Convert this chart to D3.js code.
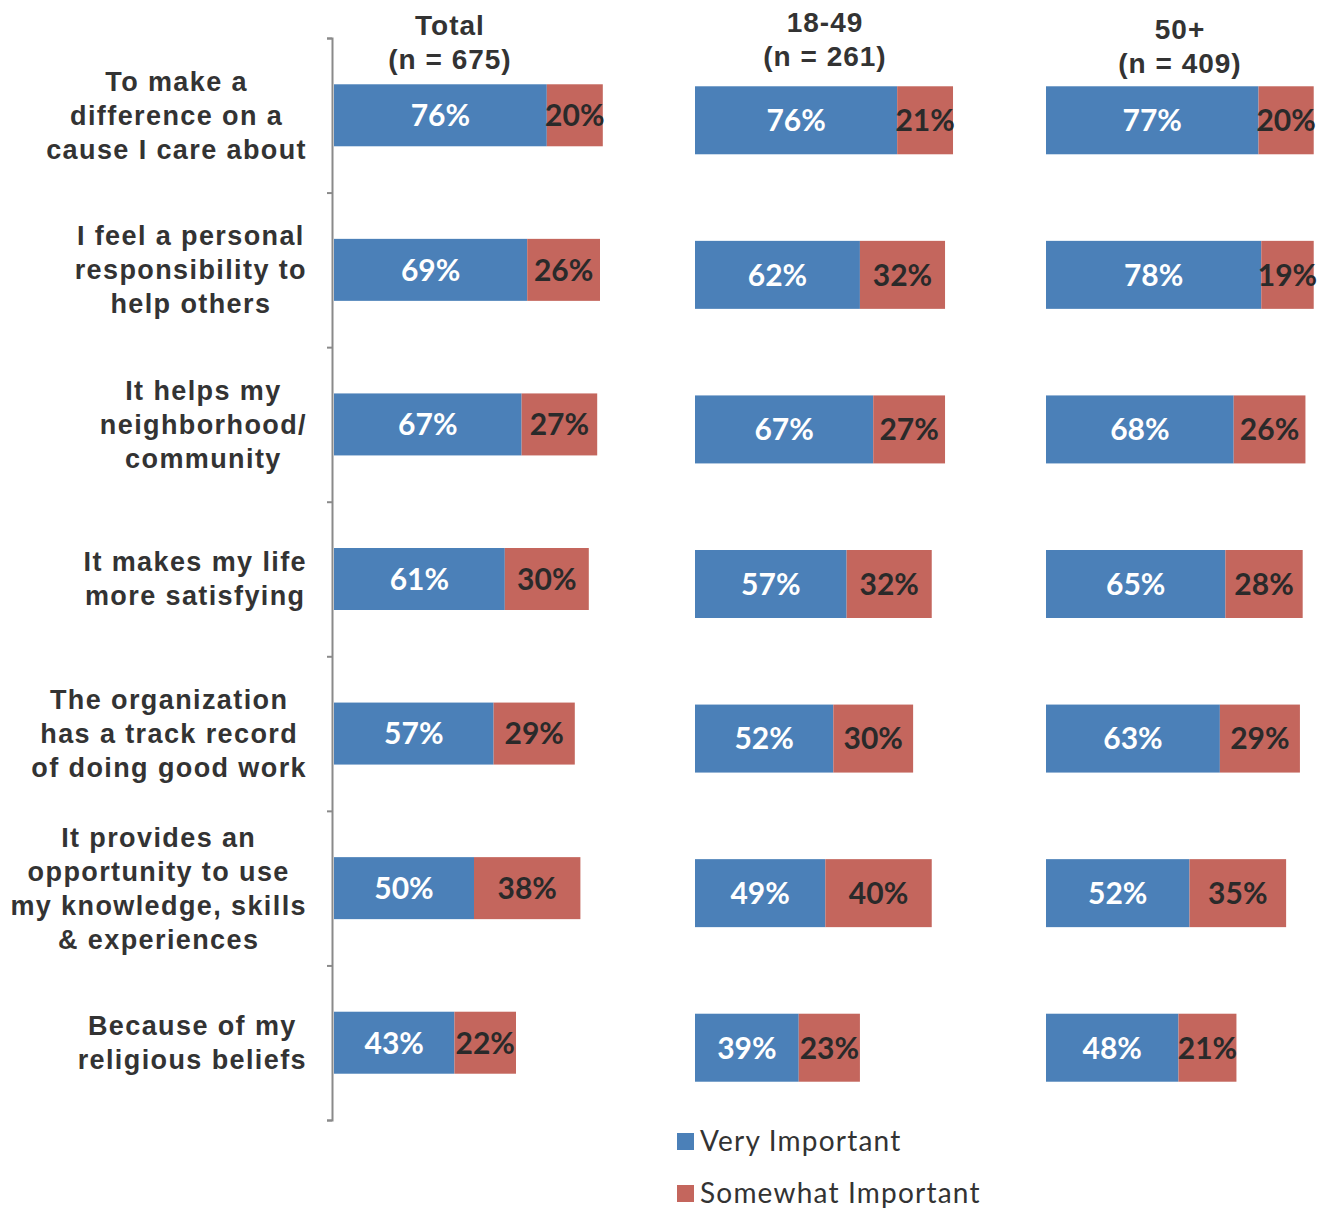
<!DOCTYPE html>
<html>
<head>
<meta charset="utf-8">
<script src="https://cdn.jsdelivr.net/npm/d3@7"></script>
<style>
  body { margin: 0; background: #fff; }
  svg { display: block; }
</style>
</head>
<body>
<div id="chartContainer"></div>
<script>
const categories = [
  ["To make a", "difference on a", "cause I care about"],
  ["I feel a personal", "responsibility to", "help others"],
  ["It helps my", "neighborhood/", "community"],
  ["It makes my life", "more satisfying"],
  ["The organization", "has a track record", "of doing good work"],
  ["It provides an", "opportunity to use", "my knowledge, skills", "& experiences"],
  ["Because of my", "religious beliefs"]
];
const seriesNames = ["Very Important", "Somewhat Important"];

const totalVery = [76, 69, 67, 61, 57, 50, 43];
const totalSome = [20, 26, 27, 30, 29, 38, 22];
const youngVery = [76, 62, 67, 57, 52, 49, 39];
const youngSome = [21, 32, 27, 32, 30, 40, 23];
const olderVery = [77, 78, 68, 65, 63, 52, 48];
const olderSome = [20, 19, 26, 28, 29, 35, 21];

const panelTitles = [["Total", "(n = 675)"], ["18-49", "(n = 261)"], ["50+", "(n = 409)"]];

const width = 1324;
const height = 1209;
const blue = "#4b80b8";
const red = "#c4665d";
const textColor = "#333333";

// layout of each panel (the scan is a little skewed, so each one is tuned)
const panels = [
  { title: panelTitles[0], very: totalVery, some: totalSome, x0: 334, w: 280, dy: 0, h: 62, tx: 450, ty: 35 },
  { title: panelTitles[1], very: youngVery, some: youngSome, x0: 695, w: 266, dy: 5, h: 68, tx: 825, ty: 32 },
  { title: panelTitles[2], very: olderVery, some: olderSome, x0: 1046, w: 276, dy: 5, h: 68, tx: 1180, ty: 39 }
];

const keys = categories.map((d, i) => i);

const y = d3.scaleBand()
  .domain(keys)
  .range([38, 1120]);

const svg = d3.create("svg")
  .attr("width", width)
  .attr("height", height)
  .attr("viewBox", [0, 0, width, height]);

document.getElementById("chartContainer").appendChild(svg.node());

// left axis with bracket-like ticks
svg.append("g")
  .attr("transform", "translate(332,0)")
  .call(d3.axisLeft(d3.scaleLinear().domain([0, 7]).range([38, 1120])).ticks(7).tickSize(5).tickFormat(""))
  .call(g => g.selectAll("line").attr("stroke", "#8a8a8a").attr("stroke-width", 2))
  .call(g => g.select(".domain").attr("stroke", "#8a8a8a").attr("stroke-width", 2));

// category labels: centered block, widest line ending at x = 307
const labels = svg.append("g")
  .attr("font-family", "'Liberation Sans', Arial, sans-serif")
  .attr("font-weight", "bold")
  .attr("font-size", 27)
  .attr("letter-spacing", 1.4)
  .attr("fill", textColor)
  .attr("text-anchor", "middle");

categories.forEach((lines, i) => {
  const t = labels.append("text");
  const cy = y(i) + y.bandwidth() / 2;
  const lh = 34;
  lines.forEach((line, j) => {
    t.append("tspan")
      .attr("y", cy + (j - (lines.length - 1) / 2) * lh)
      .attr("dy", "0.35em")
      .text(line);
  });
  const maxW = d3.max(t.selectAll("tspan").nodes(), n => n.getComputedTextLength());
  t.selectAll("tspan").attr("x", 307 - maxW / 2);
});

panels.forEach(p => {
  const x = d3.scaleLinear().domain([0, 100]).range([p.x0, p.x0 + p.w]);
  const g = svg.append("g");

  const rows = keys.map(i => ({ i, very: p.very[i], some: p.some[i] }));
  const by = d => y(d.i) + (y.bandwidth() - p.h) / 2 + p.dy;

  g.selectAll(".very").data(rows).join("rect")
    .attr("x", x(0))
    .attr("y", by)
    .attr("width", d => x(d.very) - x(0))
    .attr("height", p.h)
    .attr("fill", blue);

  g.selectAll(".some").data(rows).join("rect")
    .attr("x", d => x(d.very))
    .attr("y", by)
    .attr("width", d => x(d.very + d.some) - x(d.very))
    .attr("height", p.h)
    .attr("fill", red);

  const vl = g.append("g")
    .attr("font-family", "Lato, 'Open Sans', sans-serif")
    .attr("font-weight", "bold")
    .attr("font-size", 30)
    .attr("text-anchor", "middle");

  vl.selectAll(".vt").data(rows).join("text")
    .attr("x", d => (x(0) + x(d.very)) / 2)
    .attr("y", d => by(d) + p.h / 2)
    .attr("dy", "0.36em")
    .attr("fill", "#ffffff")
    .text(d => d.very + "%");

  vl.selectAll(".st").data(rows).join("text")
    .attr("x", d => (x(d.very) + x(d.very + d.some)) / 2)
    .attr("y", d => by(d) + p.h / 2)
    .attr("dy", "0.36em")
    .attr("fill", "#2a2a2a")
    .text(d => d.some + "%");

  // panel header
  const ht = svg.append("text")
    .attr("font-family", "'Liberation Sans Narrow', 'Liberation Sans', sans-serif")
    .attr("font-weight", "bold")
    .attr("font-size", 28)
    .attr("letter-spacing", 1)
    .attr("fill", textColor)
    .attr("text-anchor", "middle");
  p.title.forEach((line, j) => {
    ht.append("tspan").attr("x", p.tx).attr("y", p.ty + j * 34).text(line);
  });
});

// legend
const legend = svg.append("g")
  .attr("font-family", "Lato, 'Open Sans', sans-serif")
  .attr("font-size", 28)
  .attr("letter-spacing", 1.2)
  .attr("fill", textColor);

seriesNames.forEach((name, i) => {
  const ly = 1133 + i * 52;
  legend.append("rect")
    .attr("x", 677).attr("y", ly)
    .attr("width", 17).attr("height", 17)
    .attr("fill", i === 0 ? blue : red);
  legend.append("text")
    .attr("x", 700).attr("y", ly + 8)
    .attr("dy", "0.35em")
    .text(name);
});
</script>
</body>
</html>
